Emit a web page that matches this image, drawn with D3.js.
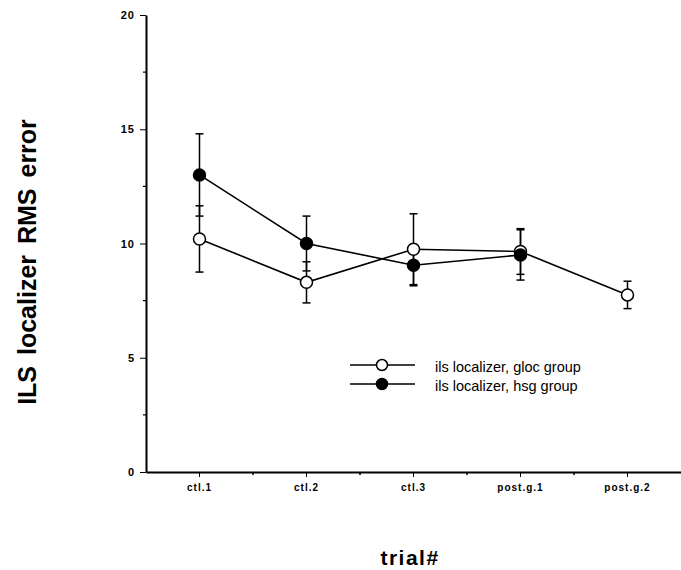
<!DOCTYPE html>
<html>
<head>
<meta charset="utf-8">
<script src="https://cdn.jsdelivr.net/npm/d3@7"></script>
<style>
  body { margin: 0; background: #fff; }
  svg { font-family: "Liberation Sans", Arial, sans-serif; }
</style>
</head>
<body>
<script>
const width = 681,
      height = 570;

// data
const trials = ["ctl.1", "ctl.2", "ctl.3", "post.g.1", "post.g.2"];
const glocMean = [10.2, 8.3, 9.75, 9.65, 7.75];
const glocErr  = [1.45, 0.9, 1.55, 1.0, 0.6];
const hsgMean  = [13.0, 10.0, 9.05, 9.5, null];
const hsgErr   = [1.8, 1.2, 0.9, 1.1, null];
const yTicks = [0, 5, 10, 15, 20];
const yMinor = [2.5, 7.5, 12.5, 17.5];

const series = [
	{ name: "ils localizer, gloc group", mean: glocMean, err: glocErr, fill: "#fff" },
	{ name: "ils localizer, hsg group", mean: hsgMean, err: hsgErr, fill: "#000" }
];

const margin = { left: 146, right: 0, top: 15, bottom: 98 };

var svg = d3.select("body").append("svg")
	.attr("width", width)
	.attr("height", height);

var x = d3.scaleBand()
	.domain(trials)
	.range([margin.left, width - margin.right])
	.padding(0);

var y = d3.scaleLinear()
	.domain([0, 20])
	.range([height - margin.bottom, margin.top]);

var cx = function (d) { return x(d) + x.bandwidth() / 2 };

// x axis
var xAxis = svg.append("g")
	.attr("transform", "translate(0," + y(0) + ")")
	.call(d3.axisBottom(x).tickSize(5).tickPadding(7).tickSizeOuter(0));
xAxis.select(".domain").attr("stroke-width", 2);
xAxis.selectAll("text")
	.style("font-size", "10px")
	.style("font-weight", "bold")
	.style("letter-spacing", "1px");

// minor x ticks on band boundaries
xAxis.selectAll(".minor")
	.data(trials.slice(1))
	.enter().append("line")
	.attr("class", "minor")
	.attr("x1", d => x(d)).attr("x2", d => x(d))
	.attr("y1", 0).attr("y2", 3)
	.attr("stroke", "#000").attr("stroke-width", 1.5);

// y axis
var yAxis = svg.append("g")
	.attr("transform", "translate(" + margin.left + ",0)")
	.call(d3.axisLeft(y).tickValues(yTicks).tickSize(6).tickPadding(5).tickSizeOuter(0));
yAxis.select(".domain").attr("stroke-width", 2);
yAxis.selectAll("text")
	.style("font-size", "11px")
	.style("font-weight", "bold")
	.style("letter-spacing", "1px");

yAxis.selectAll(".minor")
	.data(yMinor)
	.enter().append("line")
	.attr("class", "minor")
	.attr("x1", -3).attr("x2", 0)
	.attr("y1", d => y(d)).attr("y2", d => y(d))
	.attr("stroke", "#000").attr("stroke-width", 1.2);

// lines, error bars, markers
series.forEach(function (s) {
	var pts = trials.map((t, i) => ({ t: t, m: s.mean[i], e: s.err[i] }))
		.filter(p => p.m != null);

	var line = d3.line()
		.x(p => cx(p.t))
		.y(p => y(p.m));

	svg.append("path")
		.datum(pts)
		.attr("d", line)
		.attr("fill", "none")
		.attr("stroke", "#000")
		.attr("stroke-width", 1.6);

	var eb = svg.append("g").selectAll("g")
		.data(pts)
		.enter().append("g");

	eb.append("line")
		.attr("x1", p => cx(p.t)).attr("x2", p => cx(p.t))
		.attr("y1", p => y(p.m + p.e)).attr("y2", p => y(p.m - p.e))
		.attr("stroke", "#000").attr("stroke-width", 1.5);

	[1, -1].forEach(function (sgn) {
		eb.append("line")
			.attr("x1", p => cx(p.t) - 4).attr("x2", p => cx(p.t) + 4)
			.attr("y1", p => y(p.m + sgn * p.e)).attr("y2", p => y(p.m + sgn * p.e))
			.attr("stroke", "#000").attr("stroke-width", 1.5);
	});
});

series.forEach(function (s) {
	var pts = trials.map((t, i) => ({ t: t, m: s.mean[i] }))
		.filter(p => p.m != null);
	svg.append("g").selectAll("circle")
		.data(pts)
		.enter().append("circle")
		.attr("cx", p => cx(p.t))
		.attr("cy", p => y(p.m))
		.attr("r", 6)
		.attr("fill", s.fill)
		.attr("stroke", "#000")
		.attr("stroke-width", 1.5);
});

// legend
var legend = svg.append("g")
	.attr("transform", "translate(350,365)");

var li = legend.selectAll("g")
	.data(series)
	.enter().append("g")
	.attr("transform", (d, i) => "translate(0," + i * 19 + ")");

li.append("line")
	.attr("x1", 0).attr("x2", 65)
	.attr("stroke", "#000").attr("stroke-width", 1.3);
li.append("circle")
	.attr("cx", 32).attr("r", 5.5)
	.attr("fill", d => d.fill)
	.attr("stroke", "#000").attr("stroke-width", 1.5);
li.append("text")
	.attr("x", 85).attr("dy", "0.5em")
	.style("font-size", "14.5px")
	.text(d => d.name);

// axis titles
svg.append("text")
	.attr("transform", "translate(36,262) rotate(-90)")
	.attr("text-anchor", "middle")
	.style("font-size", "25px")
	.style("font-weight", "bold")
	.style("word-spacing", "4px")
	.text("ILS localizer RMS error");

svg.append("text")
	.attr("x", 410).attr("y", 565)
	.attr("text-anchor", "middle")
	.style("font-size", "21px")
	.style("font-weight", "bold")
	.style("letter-spacing", "1.5px")
	.text("trial#");
</script>
</body>
</html>
